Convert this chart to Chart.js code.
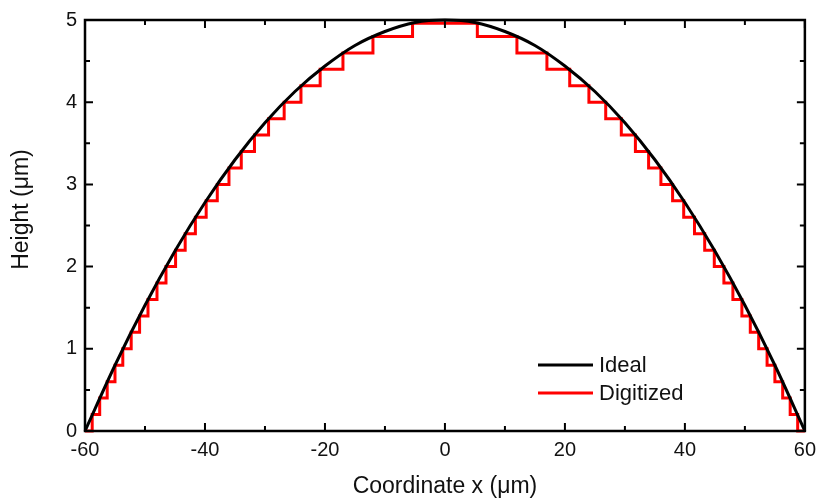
<!DOCTYPE html>
<html>
<head>
<meta charset="utf-8">
<script src="https://cdn.jsdelivr.net/npm/chart.js@4"></script>
<style>
  body { margin: 0; background: #fff; }
  #wrap { width: 823px; height: 504px; }
</style>
</head>
<body>
<div id="wrap"><canvas id="chart" width="823" height="504"></canvas></div>
<script>
// Ideal profile, read every 5 um
const idealX = [-60, -55, -50, -45, -40, -35, -30, -25, -20, -15, -10, -5, 0,
                5, 10, 15, 20, 25, 30, 35, 40, 45, 50, 55, 60];
const idealHeight = [0, 0.80, 1.53, 2.19, 2.78, 3.30, 3.75, 4.13, 4.44, 4.69, 4.86, 4.97, 5.00,
                     4.97, 4.86, 4.69, 4.44, 4.13, 3.75, 3.30, 2.78, 2.19, 1.53, 0.80, 0];

const digitX = [-60, -58.8, -57.55, -56.3, -55, -53.7, -52.3, -50.9, -49.5, -48, -46.5, -44.9, -43.3,
                -41.6, -39.8, -37.95, -36, -33.95, -31.75, -29.4, -26.8, -24, -20.8, -17, -12, -5.4,
                5.4, 12, 17, 20.8, 24, 26.8, 29.4, 31.75, 33.95, 36, 37.95, 39.8, 41.6, 43.3,
                44.9, 46.5, 48, 49.5, 50.9, 52.3, 53.7, 55, 56.3, 57.55, 58.8, 60];
const digitHeight = [0, 0.2, 0.4, 0.6, 0.8, 1.0, 1.2, 1.4, 1.6, 1.8, 2.0, 2.2, 2.4,
                     2.6, 2.8, 3.0, 3.2, 3.4, 3.6, 3.8, 4.0, 4.2, 4.4, 4.6, 4.8, 4.96,
                     4.8, 4.6, 4.4, 4.2, 4.0, 3.8, 3.6, 3.4, 3.2, 3.0, 2.8, 2.6, 2.4, 2.2,
                     2.0, 1.8, 1.6, 1.4, 1.2, 1.0, 0.8, 0.6, 0.4, 0.2, 0, 0];

const xTicks = [-60, -50, -40, -30, -20, -10, 0, 10, 20, 30, 40, 50, 60];
const yTicks = [0, 0.5, 1, 1.5, 2, 2.5, 3, 3.5, 4, 4.5, 5];

const FONT = '"Liberation Sans", Arial, sans-serif';
const TXT = '#111';

// frame + inward ticks on all four sides
const framePlugin = {
  id: 'frame',
  afterDatasetsDraw(chart) {
    const { ctx, chartArea: a, scales } = chart;
    ctx.save();
    ctx.strokeStyle = '#000';
    ctx.lineWidth = 2;
    xTicks.forEach(v => {
      const px = scales.x.getPixelForValue(v);
      const len = v % 20 === 0 ? 8 : 5;
      ctx.beginPath();
      ctx.moveTo(px, a.bottom); ctx.lineTo(px, a.bottom - len);
      ctx.moveTo(px, a.top); ctx.lineTo(px, a.top + len);
      ctx.stroke();
    });
    yTicks.forEach(v => {
      const py = scales.y.getPixelForValue(v);
      const len = Number.isInteger(v) ? 8 : 5;
      ctx.beginPath();
      ctx.moveTo(a.left, py); ctx.lineTo(a.left + len, py);
      ctx.moveTo(a.right, py); ctx.lineTo(a.right - len, py);
      ctx.stroke();
    });
    ctx.lineWidth = 2.5;
    ctx.strokeRect(a.left, a.top, a.right - a.left, a.bottom - a.top);
    ctx.restore();
  }
};

// legend inside the plot, lower right
const legendPlugin = {
  id: 'innerLegend',
  afterDraw(chart) {
    const { ctx } = chart;
    ctx.save();
    ctx.font = '22px ' + FONT;
    ctx.textBaseline = 'middle';
    chart.data.datasets.forEach((ds, i) => {
      const y = 365 + i * 28;
      ctx.strokeStyle = ds.borderColor;
      ctx.lineWidth = 3;
      ctx.beginPath();
      ctx.moveTo(538, y); ctx.lineTo(593, y);
      ctx.stroke();
      ctx.fillStyle = TXT;
      ctx.fillText(ds.label, 599, y + 1);
    });
    ctx.restore();
  }
};

const ctx = document.getElementById('chart').getContext('2d');
new Chart(ctx, {
  type: 'line',
  data: {
    datasets: [
      {
        label: 'Ideal',
        data: idealX.map((x, i) => ({ x: x, y: idealHeight[i] })),
        borderColor: '#000',
        borderWidth: 3,
        pointRadius: 0,
        cubicInterpolationMode: 'monotone',
        clip: false
      },
      {
        label: 'Digitized',
        data: digitX.map((x, i) => ({ x: x, y: digitHeight[i] })),
        borderColor: '#ff0000',
        borderWidth: 3,
        pointRadius: 0,
        stepped: 'before',
        clip: false
      }
    ]
  },
  options: {
    responsive: false,
    devicePixelRatio: 1,
    animation: false,
    layout: { padding: { left: 0, right: 15, top: 15, bottom: 0 } },
    plugins: { legend: { display: false }, tooltip: { enabled: false } },
    scales: {
      x: {
        type: 'linear',
        min: -60, max: 60,
        grid: { display: false, drawTicks: false },
        border: { display: false },
        ticks: { stepSize: 20, color: TXT, font: { family: FONT, size: 20 }, padding: 7, maxRotation: 0 },
        title: { display: true, text: 'Coordinate x (μm)', color: TXT, font: { family: FONT, size: 23 }, padding: { top: 0, bottom: 4 } },
        afterFit(scale) { scale.height = 73; }
      },
      y: {
        min: 0, max: 5,
        grid: { display: false, drawTicks: false },
        border: { display: false },
        ticks: { stepSize: 1, color: TXT, font: { family: FONT, size: 20 }, padding: 8 },
        title: { display: true, text: '     Height (μm)', color: TXT, font: { family: FONT, size: 23 }, padding: { top: 8, bottom: 0 } },
        afterFit(scale) { scale.width = 85; }
      }
    }
  },
  plugins: [framePlugin, legendPlugin]
});
</script>
</body>
</html>
